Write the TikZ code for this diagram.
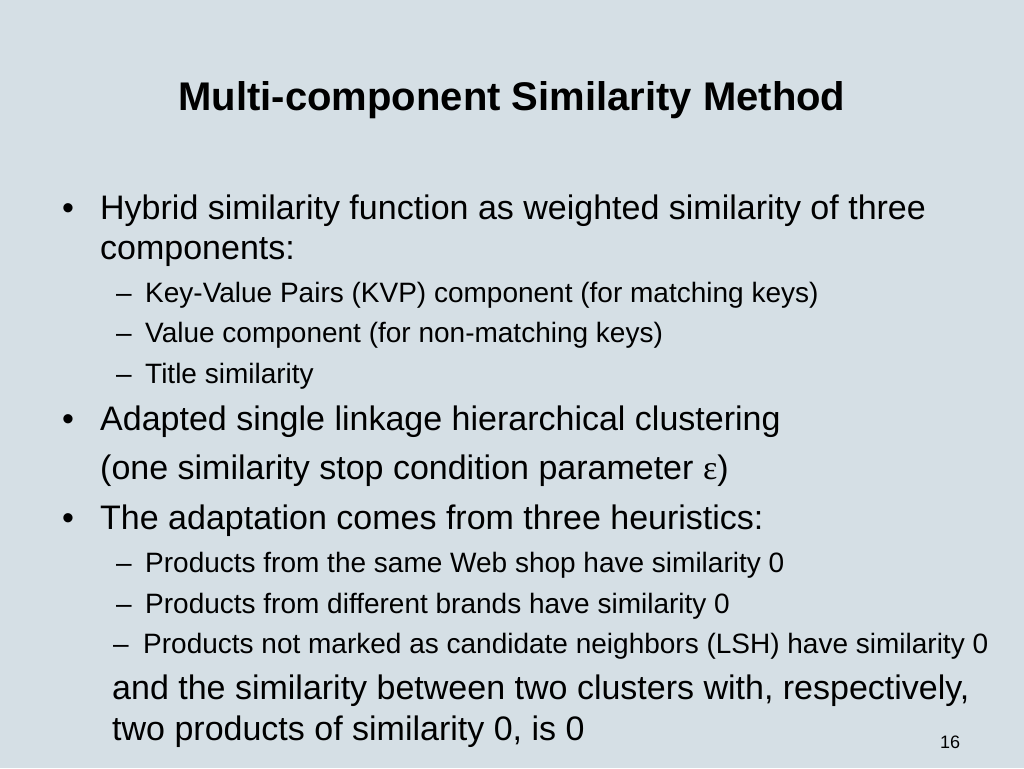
\documentclass[tikz,border=0pt]{standalone}
\usepackage{fontspec}
\setmainfont{Liberation Sans}
\newfontfamily\serifgreek{Liberation Serif}
\usetikzlibrary{positioning}
\definecolor{slidebg}{HTML}{D5DFE5}
\begin{document}
\begin{tikzpicture}[x=1pt, y=-1pt, font=\fontsize{34}{40}\selectfont]
  \tikzstyle{line}=[anchor=base west, inner sep=0pt]
  \tikzstyle{sub}=[line, font=\fontsize{28}{32}\selectfont]
  \fill[slidebg] (0,0) rectangle (1024,768);
  \useasboundingbox (0,0) rectangle (1024,768);

  \node[anchor=base, inner sep=0pt, font=\fontsize{40}{46}\selectfont\bfseries] (title) at (512,110) {Multi-component Similarity Method};

  % first bullet
  \node[line] (b1) at (62,219) {•};
  \node[line] (hybrid) at (100,219) {Hybrid similarity function as weighted similarity of three};
  \node[line] (comp) at (100,259) {components:};
  \node[sub] (d1) at (116,302) {–};
  \node[sub] (kvp) at (145,302) {Key-Value Pairs (KVP) component (for matching keys)};
  \node[sub] (d2) at (116,342) {–};
  \node[sub] (val) at (145,342) {Value component (for non-matching keys)};
  \node[sub] (d3) at (116,383) {–};
  \node[sub] (tsim) at (145,383) {Title similarity};

  % second bullet
  \node[line] (b2) at (62,430) {•};
  \node[line] (adapt) at (100,430) {Adapted single linkage hierarchical clustering};
  \node[line] (stop) at (100,479) {(one similarity stop condition parameter {\serifgreek ε})};

  % third bullet
  \node[line] (b3) at (62,529) {•};
  \node[line] (heur) at (100,529) {The adaptation comes from three heuristics:};
  \node[sub] (d4) at (116,572) {–};
  \node[sub] (shop) at (145,572) {Products from the same Web shop have similarity 0};
  \node[sub] (d5) at (116,613) {–};
  \node[sub] (brand) at (145,613) {Products from different brands have similarity 0};
  \node[sub] (d6) at (113,653) {–};
  \node[sub] (lsh) at (143,653) {Products not marked as candidate neighbors (LSH) have similarity 0};

  \node[line] (and1) at (112,699) {and the similarity between two clusters with, respectively,};
  \node[line] (and2) at (112,740) {two products of similarity 0, is 0};

  \node[line, font=\fontsize{18}{20}\selectfont] (page) at (940,748) {16};
\end{tikzpicture}
\end{document}
